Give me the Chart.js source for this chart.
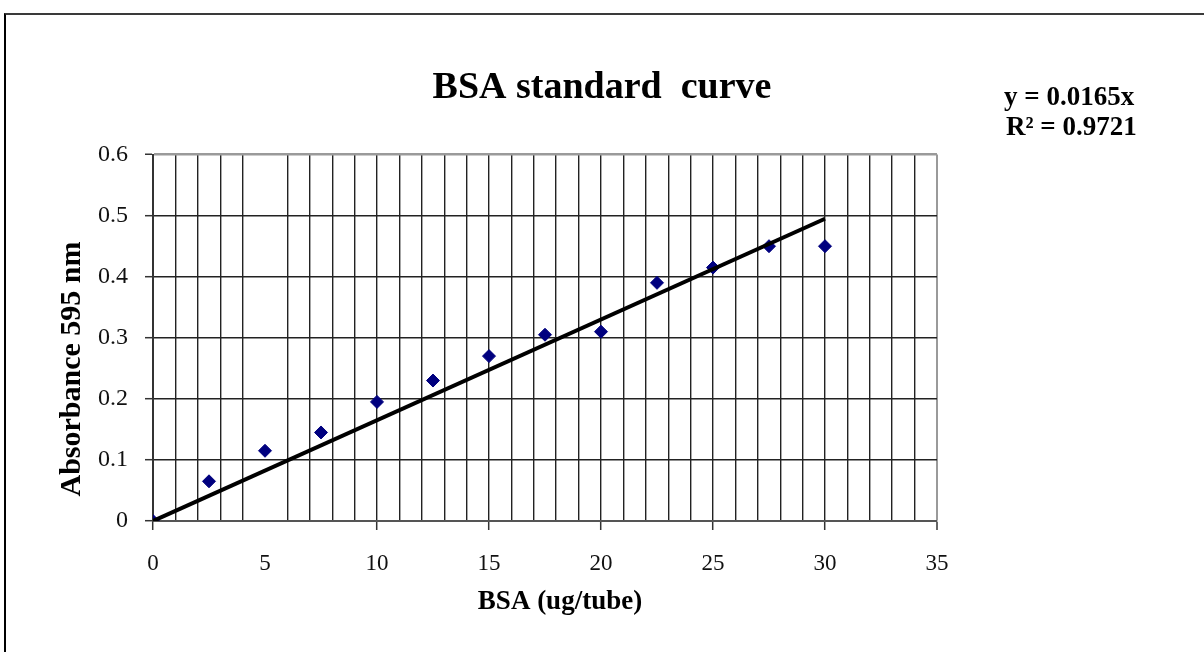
<!DOCTYPE html>
<html>
<head>
<meta charset="utf-8">
<script src="https://cdn.jsdelivr.net/npm/chart.js@4.4.1/dist/chart.umd.min.js"></script>
<style>
  html, body { margin: 0; padding: 0; background: #fff; overflow: hidden; }
  .frame { position: absolute; left: 4px; top: 13px; width: 1400px; height: 800px;
           border-top: 2px solid #3a3a3a; border-left: 2px solid #000; }
  .wrap { position: absolute; left: 0; top: 0; width: 1204px; height: 652px; }
</style>
</head>
<body>
<div class="frame"></div>
<div class="wrap"><canvas id="c" width="1204" height="652"></canvas></div>
<script>
// measured standards (ug BSA per tube vs absorbance)
const bsaAmounts = [0, 2.5, 5, 7.5, 10, 12.5, 15, 17.5, 20, 22.5, 25, 27.5, 30];
const absorbance = [0, 0.065, 0.115, 0.145, 0.195, 0.23, 0.27, 0.305, 0.31, 0.39, 0.415, 0.45, 0.45];

// linear trendline end points (y = 0.0165x)
const trendX = [0, 30];
const trendY = [0, 0.495];

const xLabelStep = 5;   // labelled ticks on x
const xMissingGrid = 5; // this grid line is absent in the original
const equationLines = ['y = 0.0165x', 'R\u00b2 = 0.9721'];

const SERIF = "'Liberation Serif','Times New Roman',serif";

const extraText = {
  id: 'extraText',
  afterDraw(chart) {
    const { ctx } = chart;
    ctx.save();
    ctx.fillStyle = '#000';
    ctx.textBaseline = 'middle';

    // axis titles
    ctx.font = `bold 27px ${SERIF}`;
    ctx.textAlign = 'center';
    ctx.fillText('BSA (ug/tube)', 560, 602);
    ctx.save();
    ctx.translate(72, 369);
    ctx.rotate(-Math.PI / 2);
    ctx.font = `bold 30px ${SERIF}`;
    ctx.fillText('Absorbance 595 nm', 0, 0);
    ctx.restore();

    // trendline equation
    ctx.font = `bold 27px ${SERIF}`;
    ctx.textAlign = 'left';
    ctx.fillText(equationLines[0], 1004, 98);
    ctx.fillText(equationLines[1], 1006, 128);
    ctx.restore();
  },
};

new Chart(document.getElementById('c'), {
  type: 'scatter',
  data: {
    datasets: [
      {
        type: 'line',
        label: 'Linear',
        data: trendX.map((x, i) => ({ x, y: trendY[i] })),
        borderColor: '#000',
        borderWidth: 4,
        pointRadius: 0,
        fill: false,
        order: 0,
      },
      {
        label: 'Standards',
        data: bsaAmounts.map((x, i) => ({ x, y: absorbance[i] })),
        pointStyle: 'rectRot',
        pointRadius: 6.5,
        backgroundColor: '#00007f',
        borderColor: '#00007f',
        borderWidth: 1,
        order: 1,
      },
    ],
  },
  options: {
    responsive: false,
    animation: false,
    layout: { padding: 0 },
    plugins: {
      legend: { display: false },
      tooltip: { enabled: false },
      title: {
        display: true,
        text: 'BSA standard  curve',
        color: '#000',
        font: { family: SERIF, size: 38, weight: 'bold' },
        padding: { top: 65, bottom: 44 },
      },
    },
    scales: {
      x: {
        type: 'linear',
        min: 0,
        max: 35,
        afterFit: (s) => { s.height = 131; },
        border: { display: true, color: '#555', width: 2 },
        grid: {
          color: (c) => {
            const v = c.tick && c.tick.value;
            if (v === xMissingGrid) return 'rgba(0,0,0,0)';
            if (v === 35) return '#9a9a9a';
            return '#222';
          },
          lineWidth: (c) => (c.tick && c.tick.value === 35 ? 2 : 1.4),
          tickLength: 9,
          tickColor: (c) => {
            const v = c.tick && c.tick.value;
            return v % xLabelStep === 0 && v !== xMissingGrid ? '#333' : 'rgba(0,0,0,0)';
          },
          tickWidth: 1.5,
        },
        ticks: {
          stepSize: 1,
          autoSkip: false,
          maxRotation: 0,
          padding: 20,
          color: '#111',
          font: { family: SERIF, size: 23 },
          callback: (v) => (v % xLabelStep === 0 ? String(v) : ''),
        },
      },
      y: {
        min: 0,
        max: 0.6,
        afterFit: (s) => { s.width = 153; },
        border: { display: true, color: '#333', width: 2 },
        grid: {
          color: (c) => (c.tick && Math.abs(c.tick.value - 0.6) < 1e-9 ? '#9a9a9a' : '#222'),
          lineWidth: (c) => (c.tick && Math.abs(c.tick.value - 0.6) < 1e-9 ? 2.5 : 1.4),
          tickLength: 8,
          tickColor: '#333',
          tickWidth: 1.5,
        },
        ticks: {
          stepSize: 0.1,
          padding: 17,
          color: '#111',
          font: { family: SERIF, size: 24 },
        },
      },
      // empty right-hand box that keeps the plot off the equation column
      side: {
        position: 'right',
        display: true,
        afterFit: (s) => { s.width = 267; },
        grid: { display: false },
        border: { display: false },
        ticks: { display: false },
      },
    },
  },
  plugins: [extraText],
});
</script>
</body>
</html>
